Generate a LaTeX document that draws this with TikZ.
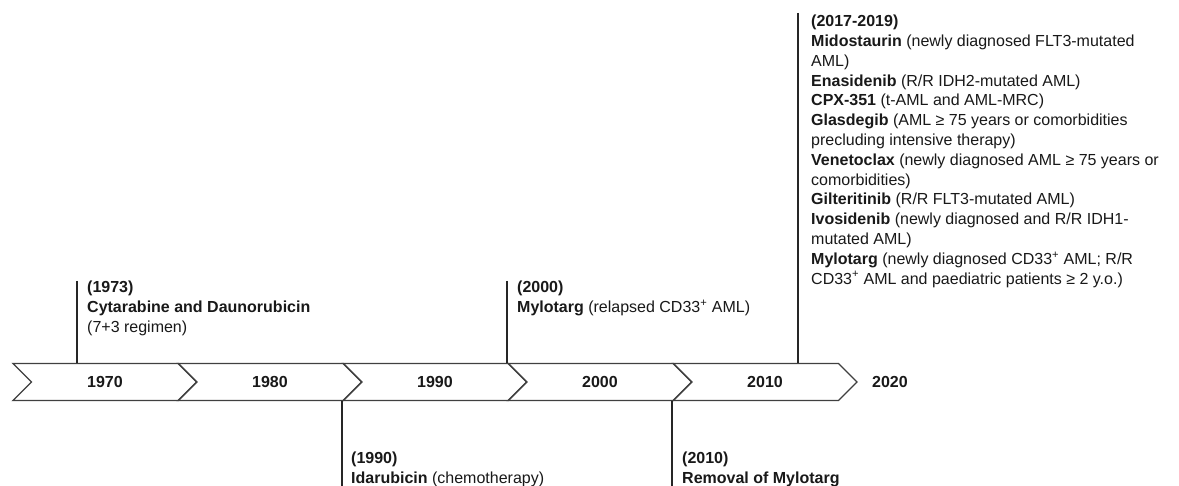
\documentclass[tikz,border=0pt]{standalone}
\usepackage{fontspec}
\setmainfont{Liberation Sans}
\usepackage{tikz}
\usetikzlibrary{shapes.symbols,positioning}

\begin{document}
\begin{tikzpicture}[
    x=1pt, y=-1pt,
    font=\fontsize{16}{19.8}\selectfont,
    decade/.style={signal, signal to=east, signal from=west, draw=black!75, line width=1.3pt, minimum width=184pt, minimum height=37pt, inner sep=0pt, font=\fontsize{16}{19.8}\selectfont\bfseries, text=black!90},
    yearlabel/.style={inner sep=0pt, font=\fontsize{16}{19.8}\selectfont\bfseries, text=black!90},
    event/.style={align=left, anchor=north west, inner sep=0pt, text=black!90},
    stem/.style={line width=1.6pt, draw=black!85}
]
    \useasboundingbox (0,0) rectangle (1179,486);
    \fill[white] (0,0) rectangle (1179,486);

    % Decades
    \foreach \yr [count=\i from 0] in {1970,1980,1990,2000,2010}
        \node[decade] (d\yr) at (105+165*\i, 382) {\yr};
    \node[yearlabel, right=14pt of d2010] (d2020) {2020};

    % Events above the line
    \node[event] (e1973) at (87,281) {\textbf{(1973)}\\\textbf{Cytarabine and Daunorubicin}\\(7+3 regimen)};
    \node[event] (e2000) at (517,281) {\textbf{(2000)}\\\textbf{Mylotarg} (relapsed CD33\textsuperscript{+} AML)};
    \node[event] (e2017) at (811,15) {\textbf{(2017-2019)}\\
        \textbf{Midostaurin} (newly diagnosed FLT3-mutated\\AML)\\
        \textbf{Enasidenib} (R/R IDH2-mutated AML)\\
        \textbf{CPX-351} (t-AML and AML-MRC)\\
        \textbf{Glasdegib} (AML ≥ 75 years or comorbidities\\precluding intensive therapy)\\
        \textbf{Venetoclax} (newly diagnosed AML ≥ 75 years or\\comorbidities)\\
        \textbf{Gilteritinib} (R/R FLT3-mutated AML)\\
        \textbf{Ivosidenib} (newly diagnosed and R/R IDH1-\\mutated AML)\\
        \textbf{Mylotarg} (newly diagnosed CD33\textsuperscript{+} AML; R/R\\CD33\textsuperscript{+} AML and paediatric patients ≥ 2 y.o.)};

    % Events below the line
    \node[event] (e1990) at (351,452) {\textbf{(1990)}\\\textbf{Idarubicin} (chemotherapy)};
    \node[event] (e2010) at (682,452) {\textbf{(2010)}\\\textbf{Removal of Mylotarg}};

    % Stems
    \draw[stem] ([xshift=-10pt]e1973.north west) -- ([xshift=-10pt]e1973.north west |- d1970.north);
    \draw[stem] ([xshift=-10pt]e2000.north west) -- ([xshift=-10pt]e2000.north west |- d2000.north);
    \draw[stem] ([xshift=-13pt,yshift=2pt]e2017.north west) -- ([xshift=-13pt]e2017.north west |- d2010.north);
    \draw[stem] ([xshift=-9pt]e1990.north west |- d1990.south) -- ([xshift=-9pt,yshift=-10pt]e1990.south west);
    \draw[stem] ([xshift=-10pt]e2010.north west |- d2010.south) -- ([xshift=-10pt,yshift=-10pt]e2010.south west);
\end{tikzpicture}
\end{document}
